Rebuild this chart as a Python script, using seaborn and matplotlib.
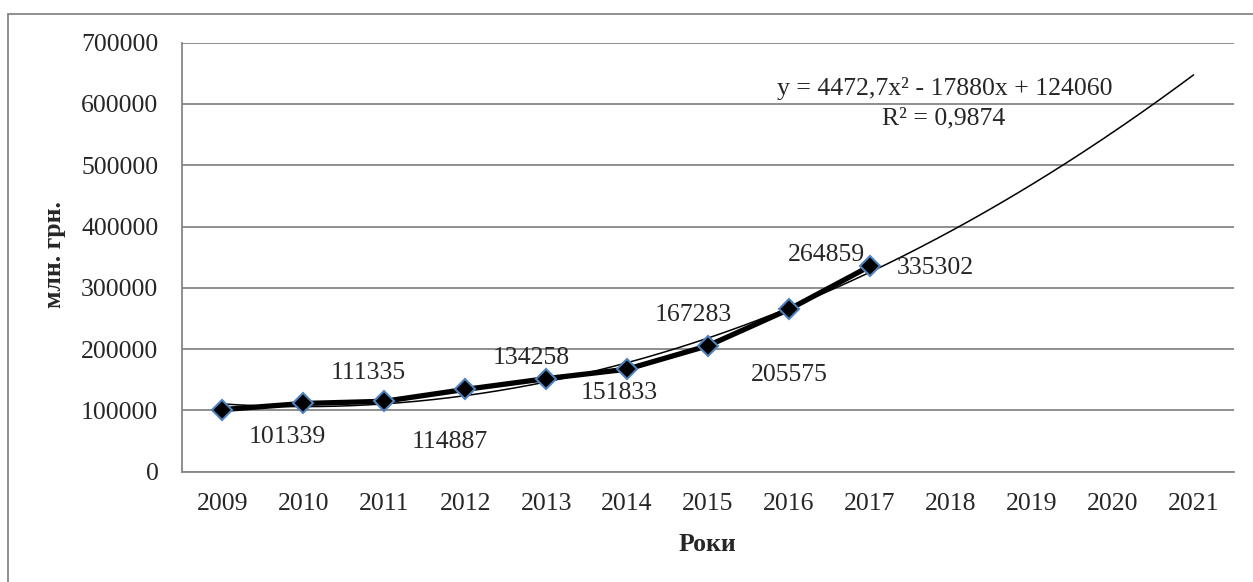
# Load libraries
import numpy as np
import matplotlib
matplotlib.use('Agg')
import matplotlib.pyplot as plt
from matplotlib.lines import Line2D
import seaborn as sns

# Data
years = ['2009', '2010', '2011', '2012', '2013', '2014', '2015', '2016', '2017',
         '2018', '2019', '2020', '2021']
values = [101339, 111335, 114887, 134258, 151833, 167283, 205575, 264859, 335302]
label_texts = ['101339', '111335', '114887', '134258', '151833', '167283',
               '205575', '264859', '335302']
trend_text = 'y = 4472,7x\u00b2 - 17880x + 124060'
r2_text = 'R\u00b2 = 0,9874'

# where Excel put each data label, pixels from the point (x right, y up)
label_offsets = [(65, -27), (65, 30), (65, -41), (66, 31), (73, -14),
                 (66, 54), (81, -29), (38, 54), (65, -2)]

sns.set_style('white')
plt.rcParams['font.family'] = ['Liberation Serif', 'DejaVu Serif']

W, H = 1253, 582
fig = plt.figure(figsize=(W / 100, H / 100), dpi=100)
ax = fig.add_axes([182 / W, (H - 471.7) / H, (1234 - 182) / W, (471.7 - 42.7) / H])

grey = '#868686'

# quadratic trend line fitted to the data, x = 1..n as in Excel
idx = np.arange(len(values))
coef = np.polyfit(idx + 1, values, 2)
xs = np.linspace(0, len(years) - 1, 300)
ax.plot(xs, np.polyval(coef, xs + 1), color='black', lw=1.1, zorder=3)

# main series
sns.lineplot(x=idx, y=values, ax=ax, color='black', lw=3.8, marker='D',
             markersize=10, markerfacecolor='black', markeredgecolor='#4F81BD',
             markeredgewidth=1.5, zorder=4)

for i, (txt, off) in enumerate(zip(label_texts, label_offsets)):
    ax.annotate(txt, (i, values[i]), xytext=off, textcoords='offset pixels',
                ha='center', va='center', fontsize=18.5, zorder=5)

# axes
ax.set_xlim(-0.5, len(years) - 0.5)
ax.set_ylim(0, 700000)
ax.set_yticks(range(0, 700001, 100000))
ax.set_yticklabels([str(v) for v in range(0, 700001, 100000)])
ax.set_xticks(np.arange(-0.5, len(years), 1.0))
ax.set_xticklabels([])
ax.set_xticks(range(len(years)), minor=True)
ax.set_xticklabels(years, minor=True)
ax.tick_params(axis='x', which='major', length=6, width=1.3, color=grey, direction='out')
ax.tick_params(axis='x', which='minor', length=0, pad=15, labelsize=18.5)
ax.tick_params(axis='y', length=6, width=1.3, color=grey, direction='out', pad=11,
               labelsize=18.5)
ax.yaxis.grid(True, color=grey, lw=1.3)
ax.set_axisbelow(True)
for s in ['top', 'right']:
    ax.spines[s].set_visible(False)
for s in ['left', 'bottom']:
    ax.spines[s].set_color(grey)
    ax.spines[s].set_linewidth(1.3)

ax.set_ylabel('млн. грн.', fontsize=18.5, fontweight='bold')
ax.yaxis.set_label_coords(-0.110, 0.507)
ax.set_xlabel('Роки', fontsize=18.5, fontweight='bold')
ax.xaxis.set_label_coords(0.499, -0.143)

# trend equation
fig.text(945 / W, 1 - 88 / H, trend_text, ha='center', va='center', fontsize=18.5)
fig.text(944 / W, 1 - 118 / H, r2_text, ha='center', va='center', fontsize=18.5)

# chart area frame (only left and top edges visible)
fig.add_artist(Line2D([8 / W, 8 / W], [0, 1 - 14 / H], color=grey, lw=1.3))
fig.add_artist(Line2D([8 / W, 1], [1 - 14 / H, 1 - 14 / H], color=grey, lw=1.3))

fig.savefig('out.png', dpi=100)
